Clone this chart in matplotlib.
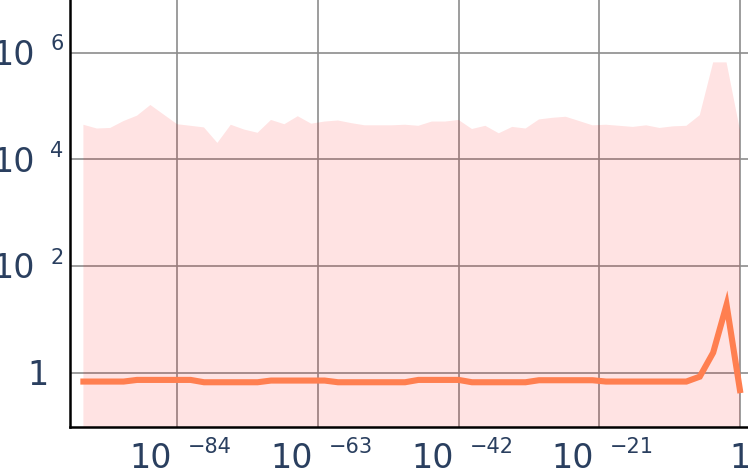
import matplotlib
matplotlib.use("Agg")
import matplotlib.pyplot as plt
import numpy as np

# data (x = 10**exponent)
exponents = [-98, -96, -94, -92, -90, -88, -86, -84, -82, -80,
             -78, -76, -74, -72, -70, -68, -66, -64, -62, -60,
             -58, -56, -54, -52, -50, -48, -46, -44, -42, -40,
             -38, -36, -34, -32, -30, -28, -26, -24, -22, -20,
             -18, -16, -14, -12, -10, -8, -6, -4, -2, 0]
upper = [44700, 38000, 38900, 52500, 66100, 105000, 69200, 45700, 42700, 39800,
         20400, 44700, 36300, 31600, 55000, 45700, 64600, 46800, 51300, 53700,
         47900, 43600, 43600, 43600, 44700, 42700, 51300, 51300, 55000, 37200,
         42700, 30900, 40700, 38000, 56200, 60300, 63100, 52500, 43600, 44700,
         42700, 40700, 43600, 38900, 41700, 42700, 67600, 661000, 661000, 35500]
line = [0.68, 0.68, 0.68, 0.68, 0.73, 0.73, 0.73, 0.73, 0.73, 0.66,
        0.66, 0.66, 0.66, 0.66, 0.71, 0.71, 0.71, 0.71, 0.71, 0.66,
        0.66, 0.66, 0.66, 0.66, 0.66, 0.73, 0.73, 0.73, 0.73, 0.66,
        0.66, 0.66, 0.66, 0.66, 0.72, 0.72, 0.72, 0.72, 0.72, 0.68,
        0.68, 0.68, 0.68, 0.68, 0.68, 0.68, 0.84, 2.37, 18.7, 0.47]

xtick_exp = [-84, -63, -42, -21, 0]
ytick_exp = [0, 2, 4, 6]

label_color = "#2a3f5f"

x = 10.0 ** np.array(exponents)

fig = plt.figure(figsize=(7.48, 4.68), dpi=100)
ax = fig.add_axes([70 / 748, 41 / 468, 678 / 748, 427 / 468])

ax.fill_between(x, 1e-3, upper, color=(1.0, 0.0, 0.0, 0.11), linewidth=0, zorder=1)
ax.plot(x, line, color="#ff7f50", linewidth=4.4, solid_joinstyle="miter", zorder=3)

ax.set_xscale("log")
ax.set_yscale("log")
ax.set_xlim(1e-100, 10 ** 1.2)
ax.set_ylim(10 ** -1.02, 10 ** 6.99)

ax.set_xticks([10.0 ** e for e in xtick_exp])
ax.set_yticks([10.0 ** e for e in ytick_exp])
ax.xaxis.set_minor_locator(matplotlib.ticker.NullLocator())
ax.yaxis.set_minor_locator(matplotlib.ticker.NullLocator())
ax.set_xticklabels([])
ax.set_yticklabels([])
ax.tick_params(length=0)
ax.grid(True, color="#8c8c8c", linewidth=1.2, zorder=0)
ax.set_axisbelow(True)

for side in ["top", "right"]:
    ax.spines[side].set_visible(False)
for side in ["left", "bottom"]:
    ax.spines[side].set_linewidth(1.8)
    ax.spines[side].set_color("black")
    ax.spines[side].set_zorder(5)

# tick labels as 10 + superscript exponent
ytr = ax.get_yaxis_transform()
for e in ytick_exp:
    if e == 0:
        ax.annotate("1", xy=(0, 1.0), xycoords=ytr, xytext=(-21, -12.3),
                    textcoords="offset pixels", ha="right", va="baseline",
                    fontsize=24, color=label_color)
        continue
    ax.annotate("10", xy=(0, 10.0 ** e), xycoords=ytr, xytext=(-35, -12.3),
                textcoords="offset pixels", ha="right", va="baseline",
                fontsize=24, color=label_color)
    ax.annotate(str(e), xy=(0, 10.0 ** e), xycoords=ytr, xytext=(-20, 2.5),
                textcoords="offset pixels", ha="left", va="baseline",
                fontsize=15, color=label_color)

xtr = ax.get_xaxis_transform()
for e in xtick_exp:
    if e == 0:
        ax.annotate("1", xy=(1.0, 0), xycoords=xtr, xytext=(0, -41.3),
                    textcoords="offset pixels", ha="center", va="baseline",
                    fontsize=24, color=label_color)
        continue
    ax.annotate("10", xy=(10.0 ** e, 0), xycoords=xtr, xytext=(-5, -41.3),
                textcoords="offset pixels", ha="right", va="baseline",
                fontsize=24, color=label_color)
    ax.annotate("\u2212" + str(-e), xy=(10.0 ** e, 0), xycoords=xtr, xytext=(11, -26.3),
                textcoords="offset pixels", ha="left", va="baseline",
                fontsize=15, color=label_color)

plt.savefig("out.png", dpi=100)
